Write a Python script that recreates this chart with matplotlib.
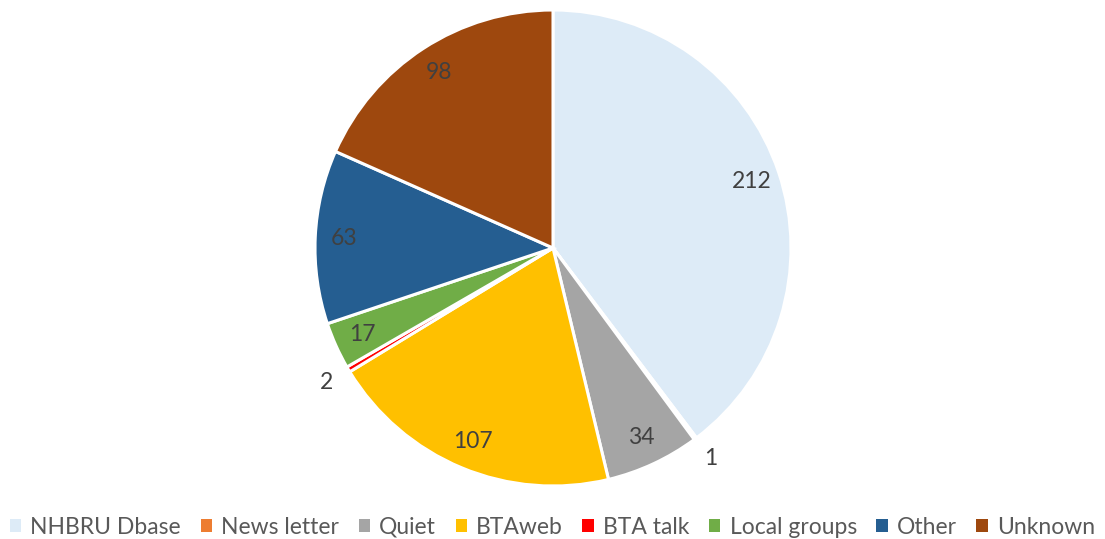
import matplotlib.pyplot as plt
import numpy as np

categories = ["NHBRU Dbase", "News letter", "Quiet", "BTAweb", "BTA talk",
              "Local groups", "Other", "Unknown"]
counts = [212, 1, 34, 107, 2, 17, 63, 98]
colors = ["#DDEBF7", "#ED7D31", "#A5A5A5", "#FFC000", "#FF0000",
          "#70AD47", "#255E91", "#9E480E"]

plt.rcParams["font.family"] = ["Lato", "DejaVu Sans"]

fig = plt.figure(figsize=(11.05, 5.39), dpi=100)
# square axes centred on the pie
r_px = 238
cx, cy = 553, 248
ax = fig.add_axes([(cx - r_px) / 1105, 1 - (cy + r_px) / 539,
                   2 * r_px / 1105, 2 * r_px / 539])

wedges, _ = ax.pie(counts, colors=colors, startangle=90, counterclock=False,
                   wedgeprops=dict(edgecolor="white", linewidth=2.2))
ax.set_xlim(-1, 1)
ax.set_ylim(-1, 1)

# data labels: inside for large slices, outside for tiny ones
for w, val in zip(wedges, counts):
    ang = np.deg2rad((w.theta1 + w.theta2) / 2)
    dist = 0.88 if val > 5 else 1.105
    ax.text(dist * np.cos(ang), dist * np.sin(ang), str(val),
            ha="center", va="center", fontsize=16.5, color="#404040",
            clip_on=False)

leg = fig.legend(wedges, categories, loc="center", bbox_to_anchor=(0.5, 1 - 527 / 539),
                 ncol=len(categories), frameon=False, fontsize=16.5,
                 handlelength=0.5, handleheight=0.5, handletextpad=0.4,
                 columnspacing=0.85, borderaxespad=0)
for t in leg.get_texts():
    t.set_color("#595959")
for h in leg.legend_handles:
    h.set_edgecolor("none")
    h.set_linewidth(0)

fig.savefig("out.png", dpi=100)
